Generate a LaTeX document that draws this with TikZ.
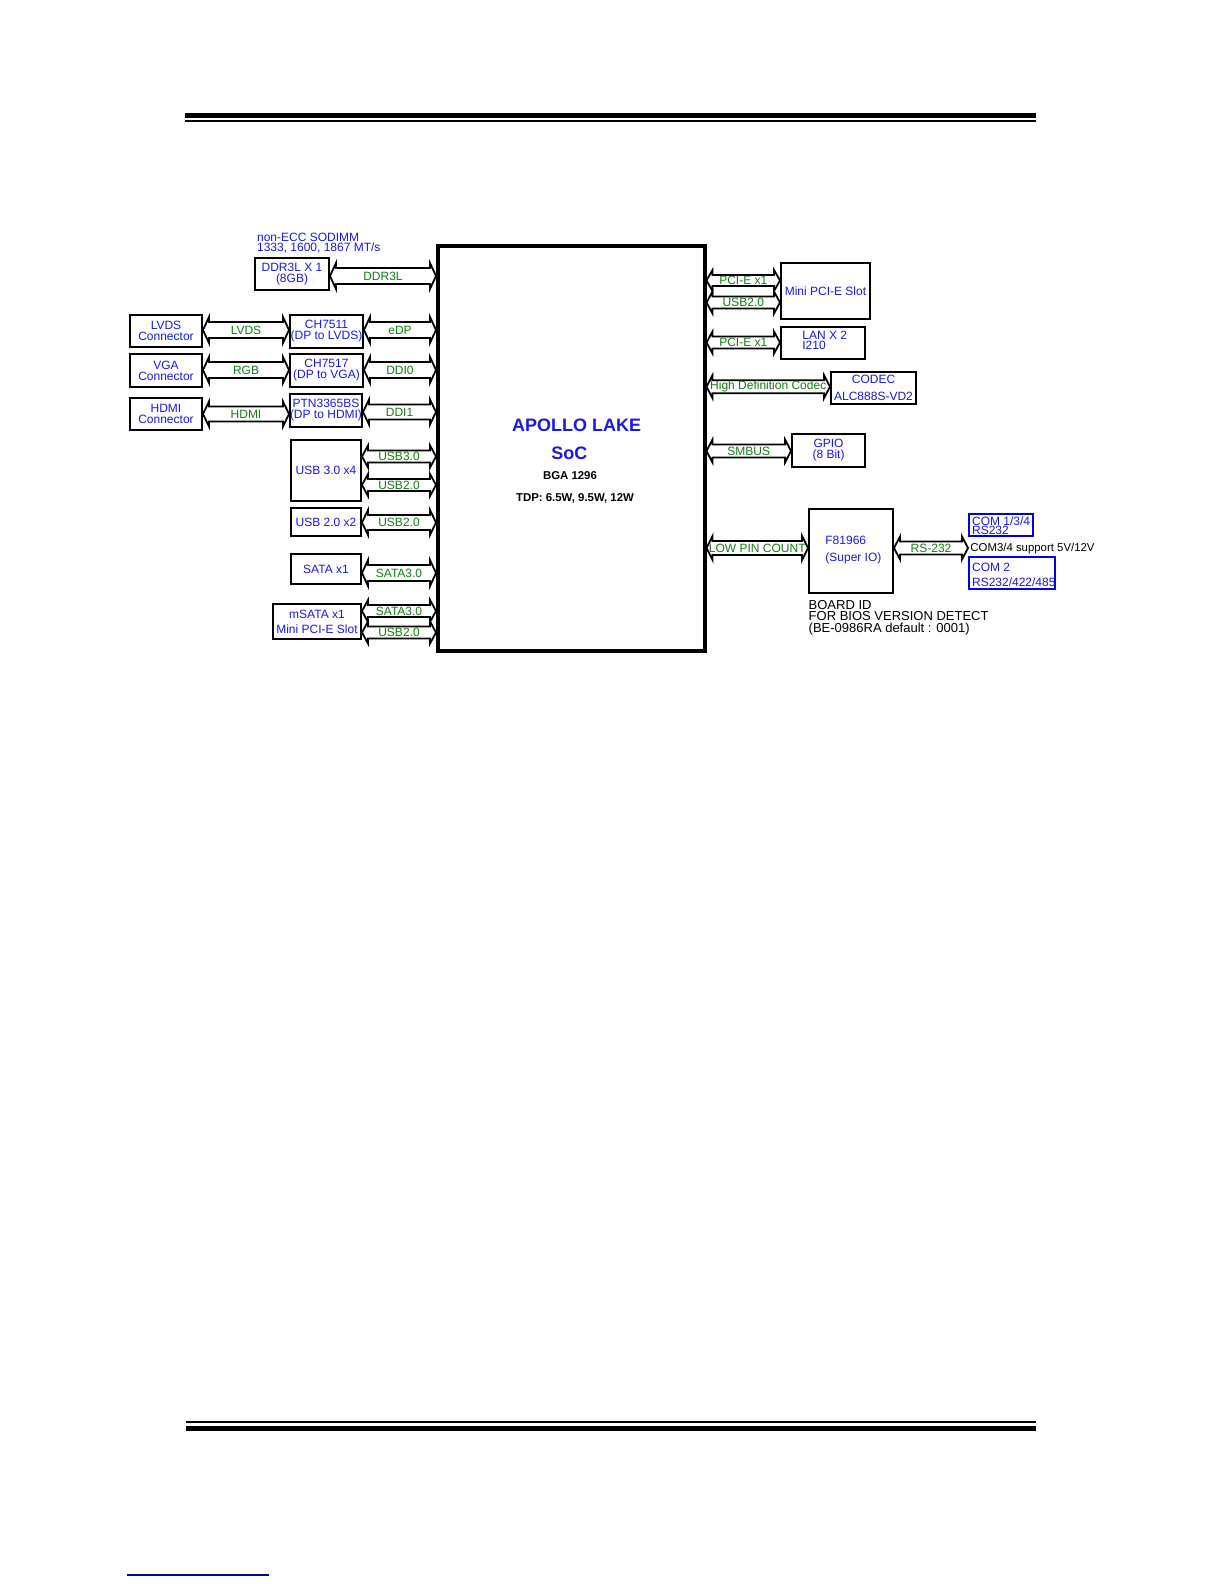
\documentclass[tikz,border=0pt]{standalone}
\usepackage{fontspec}
\setmainfont{Liberation Sans}
\usetikzlibrary{calc}
\definecolor{tblue}{RGB}{25,25,225}
\definecolor{tgreen}{RGB}{20,125,20}
\definecolor{cblue}{RGB}{0,0,225}
\definecolor{lnavy}{RGB}{10,10,130}
% fat double arrow: [half shaft width in px]{start}{end}{label}
\newcommand\fatarr[4][8]{%
  \draw[arr] let \p1=#2, \p2=#3 in
    (\x1,\y1) -- (\x1+3pt,\y1+#1*0.5pt+2.5pt) -- (\x1+3pt,\y1+#1*0.5pt)
    -- (\x2-3pt,\y1+#1*0.5pt) -- (\x2-3pt,\y1+#1*0.5pt+2.5pt) -- (\x2,\y1)
    -- (\x2-3pt,\y1-#1*0.5pt-2.5pt) -- (\x2-3pt,\y1-#1*0.5pt)
    -- (\x1+3pt,\y1-#1*0.5pt) -- (\x1+3pt,\y1-#1*0.5pt-2.5pt) -- cycle
    ({(\x1+\x2)/2},\y1) node[lbl]{#4};%
}
\begin{document}
\begin{tikzpicture}[x=0.5pt,y=-0.5pt,
  box/.style={draw, line width=1pt, inner sep=0pt, text=tblue,
    font=\fontsize{6}{5.5}\selectfont, align=center},
  cbox/.style={box, draw=cblue},
  arr/.style={draw=black, line width=0.9pt, line join=miter},
  lbl/.style={text=tgreen, font=\fontsize{6}{6}\selectfont, inner sep=0pt},
  btxt/.style={text=tblue, inner sep=0pt, align=left},
  ktxt/.style={text=black, inner sep=0pt, align=left},
  soctxt/.style={inner sep=0pt, anchor=base},
]
\useasboundingbox (0,0) rectangle (1224,1584);
\fill[white] (0,0) rectangle (1224,1584);

% header / footer rules
\fill[black] (185,113) rectangle (1036,117.7);
\fill[black] (185,120.3) rectangle (1036,122.3);
\fill[black] (186,1420.7) rectangle (1036,1422.7);
\fill[black] (186,1425.7) rectangle (1036,1431);
\draw[lnavy, line width=0.6pt] (127,1575) -- (269,1575);

% SoC
\node[draw, line width=1.75pt, inner sep=0pt, minimum width=133.5pt, minimum height=202.4pt] (soc) at (571.25,448.4) {};
\node[soctxt, text=tblue, font=\fontsize{9}{9}\selectfont\bfseries] (socA) at (576.7,431.4) {APOLLO LAKE};
\node[soctxt, text=tblue, font=\fontsize{9}{9}\selectfont\bfseries] (socB) at (569.3,459.8) {SoC};
\node[soctxt, font=\fontsize{5.7}{6}\selectfont\bfseries] (socC) at (570,479.1) {BGA 1296};
\node[soctxt, font=\fontsize{5.7}{6}\selectfont\bfseries] (socD) at (575,501.8) {TDP: 6.5W, 9.5W, 12W};

% left side boxes
\node[btxt, anchor=north west, font=\fontsize{6}{5}\selectfont] (sodimm) at (256.7,232.7) {non-ECC SODIMM\\1333, 1600, 1867 MT/s};
\node[box, minimum width=37pt, minimum height=16pt] (ddr) at (292,274) {DDR3L X 1\\(8GB)};
\node[box, minimum width=36pt, minimum height=16pt] (lvdsc) at (166,331) {LVDS\\Connector};
\node[box, minimum width=36.5pt, minimum height=16.5pt] (ch7511) at (326.5,331.5) {CH7511\\(DP to LVDS)};
\node[box, minimum width=36pt, minimum height=16.5pt] (vgac) at (166,370.5) {VGA\\Connector};
\node[box, minimum width=36.5pt, minimum height=16.5pt] (ch7517) at (326.5,370.5) {CH7517\\(DP to VGA)};
\node[box, minimum width=36pt, minimum height=16pt] (hdmic) at (166,414) {HDMI\\Connector};
\node[box, minimum width=36pt, minimum height=16.5pt] (ptn) at (326,410.5) {PTN3365BS\\(DP to HDMI)};
\node[box, minimum width=35pt, minimum height=30.5pt] (usb3) at (326,470.5) {USB 3.0 x4};
\node[box, minimum width=35pt, minimum height=14pt] (usb2) at (326,522) {USB 2.0 x2};
\node[box, minimum width=35pt, minimum height=15pt] (sata) at (326,569) {SATA x1};
\node[box, minimum width=44pt, minimum height=17.5pt] (msata) at (317,621.5) {mSATA x1\\[2pt]Mini PCI-E Slot};

% right side boxes
\node[box, minimum width=44.5pt, minimum height=28pt] (mpcie) at (825.5,291) {Mini PCI-E Slot};
\node[box, minimum width=42pt, minimum height=16pt] (lan) at (823,343) {};
\node[btxt, anchor=north west, font=\fontsize{6}{5}\selectfont] (lant) at (802,330.7) {LAN X 2\\I210};
\node[box, font=\fontsize{6}{8.5}\selectfont, minimum width=42.5pt, minimum height=16pt] (codec) at (873.5,388) {CODEC\\ALC888S-VD2};
\node[box, minimum width=36.5pt, minimum height=16.5pt] (gpio) at (828.5,450.5) {GPIO\\(8 Bit)};
\node[box, minimum width=42pt, minimum height=42pt] (sio) at (851,551) {};
\node[btxt, anchor=north west, font=\fontsize{6}{8.5}\selectfont] (siot) at (825,535.7) {F81966\\(Super IO)};
\node[cbox, minimum width=32pt, minimum height=11pt] (com1) at (1001,525) {};
\node[btxt, anchor=north west, font=\fontsize{6}{4.5}\selectfont] (com1t) at (971.7,516.7) {COM 1/3/4\\RS232};
\node[cbox, minimum width=43pt, minimum height=16pt] (com2) at (1012,573) {};
\node[btxt, anchor=north west, font=\fontsize{6}{7.5}\selectfont] (com2t) at (971.7,562.4) {COM 2\\RS232/422/485};
\node[ktxt, anchor=base west, font=\fontsize{5.7}{6}\selectfont] (comnote) at (970,551.6) {COM3/4 support 5V/12V};
\node[ktxt, anchor=north west, font=\fontsize{6.5}{5.75}\selectfont] (boardid) at (808.3,599.65) {BOARD ID\\FOR BIOS VERSION DETECT\\(BE-0986RA default : 0001)};

% left connectors
\fatarr[8]{(ddr.east |- 0,276)}{(soc.west |- 0,276)}{DDR3L}
\fatarr[8]{(lvdsc.east |- 0,330)}{(ch7511.west |- 0,330)}{LVDS}
\fatarr[8]{(ch7511.east |- 0,330)}{(soc.west |- 0,330)}{eDP}
\fatarr[8]{(vgac.east |- 0,370)}{(ch7517.west |- 0,370)}{RGB}
\fatarr[8]{(ch7517.east |- 0,370)}{(soc.west |- 0,370)}{DDI0}
\fatarr[7.5]{(hdmic.east |- 0,414)}{(ptn.west |- 0,414)}{HDMI}
\fatarr[7.5]{(ptn.east |- 0,412)}{(soc.west |- 0,412)}{DDI1}
\fatarr[6]{(usb3.east |- 0,456.5)}{(soc.west |- 0,456.5)}{USB3.0}
\fatarr[6]{(usb3.east |- 0,485)}{(soc.west |- 0,485)}{USB2.0}
\fatarr[7.5]{(usb2.east |- 0,522.5)}{(soc.west |- 0,522.5)}{USB2.0}
\fatarr[8]{(sata.east |- 0,573)}{(soc.west |- 0,573)}{SATA3.0}
\fatarr[6]{(msata.east |- 0,611)}{(soc.west |- 0,611)}{SATA3.0}
\fatarr[6]{(msata.east |- 0,632.5)}{(soc.west |- 0,632.5)}{USB2.0}

% right connectors
\fatarr[5.5]{(soc.east |- 0,280.5)}{(mpcie.west |- 0,280.5)}{PCI-E x1}
\fatarr[6]{(soc.east |- 0,302.5)}{(mpcie.west |- 0,302.5)}{USB2.0}
\fatarr[6]{(soc.east |- 0,342.5)}{(lan.west |- 0,342.5)}{PCI-E x1}
\fatarr[6.5]{(soc.east |- 0,386.7)}{(codec.west |- 0,386.7)}{High Definition Codec}
\fatarr[6.5]{(soc.east |- 0,451)}{(gpio.west |- 0,451)}{SMBUS}
\fatarr[7]{(soc.east |- 0,548)}{(sio.west |- 0,548)}{LOW PIN COUNT}
\fatarr[6.5]{(sio.east |- 0,548)}{(com1.west |- 0,548)}{RS-232}
\end{tikzpicture}
\end{document}
